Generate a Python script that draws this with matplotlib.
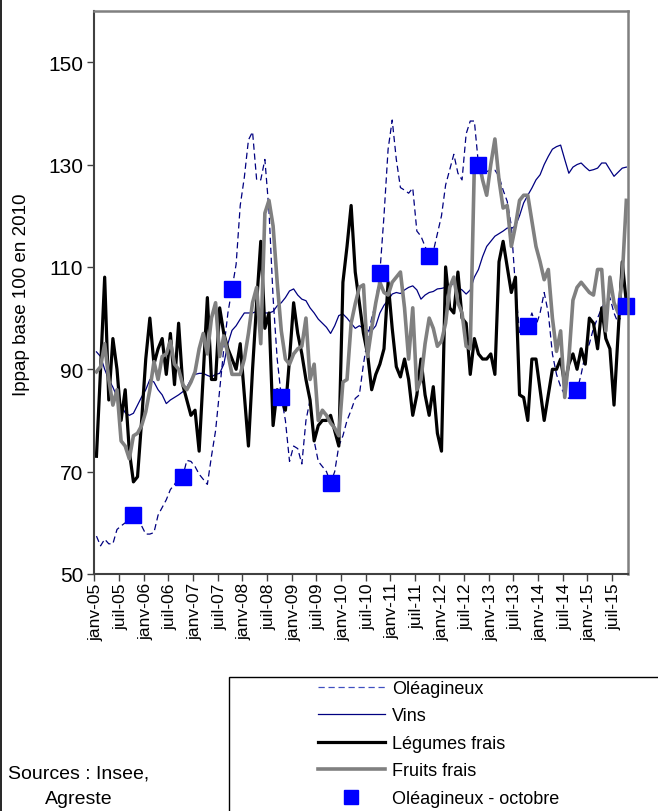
import numpy as np
import matplotlib
matplotlib.use('Agg')
import matplotlib.pyplot as plt
from matplotlib.lines import Line2D
from matplotlib.patches import Rectangle

plt.rcParams['font.family'] = ['Liberation Sans', 'DejaVu Sans']

# Indices des prix (Ippap base 100 en 2010), mensuel janv-05 -> oct-15
oleagineux = [57.4, 55.5, 56.8, 55.9, 55.9, 58.7, 59.4, 60, 60.7, 61.5,
              61.2, 59.4, 57.8, 57.8, 58.1, 61.5, 63, 64.5, 66.5, 67.5,
              68.8, 69, 72.2, 72, 71, 69.5, 68.5, 67.5, 73, 78,
              86, 94, 101, 105.7, 110.5, 122, 127.5, 134.8, 136.4, 127,
              127, 131, 121, 104, 92, 84.6, 80, 72, 75, 74.5,
              71.5, 80, 84, 76, 72, 71, 70, 67.8, 70, 75,
              77, 80, 82, 84.3, 85, 91, 96, 100, 103, 108.9,
              120, 133, 138.7, 131, 125.5, 125, 124.4, 125.4, 117, 116,
              114, 112.1, 113, 116.5, 120, 126, 129, 132, 128.3, 127,
              136, 138.5, 138.5, 130, 129, 128.6, 129, 128.9, 127.7, 125,
              122.8, 118, 106, 97, 97, 98.5, 101, 98.5, 101, 105,
              101, 93, 89, 86.6, 85, 84.3, 84.5, 85.9, 89, 93,
              95, 98, 100, 102, 103.5, 104, 101, 99, 101, 102.4]

vins = [93.4, 92.5, 90, 88, 86.5, 84.6, 83, 81.5, 81, 81.4,
        83, 84.6, 86, 88, 87.5, 86, 85, 83.3, 84, 84.5,
        85, 85.6, 86.5, 88, 89, 89.2, 89.2, 88.8, 88.5, 89,
        89.2, 91, 95, 97.6, 98.5, 99.8, 101, 101, 101, 101.3,
        101.3, 101, 101, 101.3, 102.4, 103, 104, 105.3, 105.7, 104.5,
        103.7, 103.4, 102, 101, 99.8, 99, 98.2, 97, 98.5, 100.5,
        100.8, 100, 99, 98, 98.5, 98, 97.6, 97.5, 98.5, 101,
        102.5, 103.5, 104.7, 105, 104.8, 105.5, 106, 106.3, 105.5, 103.7,
        104.5, 105, 105.2, 105.7, 105.8, 106, 106.3, 106.8, 106, 105.5,
        104.7, 105.5, 108, 109.5, 112, 114, 115, 116, 116.5, 117,
        117.6, 117.5, 118, 120, 122.5, 124, 125.4, 127, 128, 130,
        131.6, 133, 133.5, 133.8, 131, 128.3, 129.5, 130, 130.3, 129.5,
        128.8, 129, 129.3, 130.3, 130.3, 129, 127.7, 128.5, 129.3, 129.5]

legumes = [73, 90, 108, 84, 96, 90, 80, 86, 74, 68,
           69, 80, 92, 100, 91, 94, 96, 89, 97, 87,
           99, 87, 84, 81, 82, 74, 89, 104, 88, 88,
           102, 97, 94, 92, 90, 95, 85, 75, 90, 103,
           115, 98, 101, 79, 86, 84, 82, 92, 103, 97,
           93, 88, 84, 76, 79, 80, 80, 81, 78, 75,
           107, 114, 122, 109, 103, 97, 93, 86, 89, 91,
           94, 107, 98, 90.5, 88.5, 92, 88, 81, 85, 92,
           85, 81, 86.6, 77.5, 74, 110, 102, 101, 109, 100,
           99, 89, 96, 93, 92, 92, 93, 89, 111, 115,
           110, 105, 108, 85, 84.5, 80, 92, 92, 86, 80,
           85, 90, 90, 92, 87, 91, 93, 90, 94, 91,
           100, 99, 94, 102, 96, 94, 83, 97, 111, 103]

fruits = [89.5, 90.5, 95, 88, 83, 86, 76, 75, 72.5, 77,
          77.5, 79, 81.7, 86, 91.5, 88, 92.5, 93, 95.5, 91,
          90, 87, 86, 87.5, 89.5, 94, 97, 93, 100, 103,
          92.5, 96.5, 93, 89, 89, 89, 92, 97, 103, 106,
          95, 120.5, 123, 118, 107, 97.5, 92, 91, 93, 94,
          94.5, 100, 88, 91, 80, 82, 81, 79.5, 78.5, 77,
          87.5, 88, 99, 102.8, 106, 106.5, 92.5, 98, 103, 107,
          105, 104.5, 107, 108, 109, 102, 92, 102, 86, 88,
          95, 100, 98, 94.5, 95.5, 99, 106, 108, 103, 101,
          94.5, 94, 130, 131, 127, 124, 130, 135, 127, 121.5,
          122, 114, 118, 123, 124, 124, 119, 114, 111, 107.5,
          109.5, 100, 93.5, 97.5, 84.5, 92, 103.5, 106, 107, 106,
          105, 104.5, 109.5, 109.5, 97.5, 108, 103, 101, 108, 123]

mois_labels = ['janv-05', 'juil-05', 'janv-06', 'juil-06', 'janv-07', 'juil-07',
               'janv-08', 'juil-08', 'janv-09', 'juil-09', 'janv-10', 'juil-10',
               'janv-11', 'juil-11', 'janv-12', 'juil-12', 'janv-13', 'juil-13',
               'janv-14', 'juil-14', 'janv-15', 'juil-15']

x = np.arange(len(oleagineux))
# les points d'octobre (index 9, 21, 33, ...)
x_oct = x[9::12]
y_oct = np.array(oleagineux)[9::12]

fig = plt.figure(figsize=(6.58, 8.12), dpi=100)
ax = fig.add_axes([94.4 / 658, 1 - 575 / 812, 534 / 658, 563 / 812])

ax.plot(x, oleagineux, color='#000080', lw=0.9, dashes=(5, 3))
ax.plot(x, vins, color='#000080', lw=0.9)
ax.plot(x, legumes, color='black', lw=2.3)
ax.plot(x, fruits, color='#808080', lw=2.6)
ax.plot(x_oct, y_oct, ls='none', marker='s', ms=11, color='#0000ff', clip_on=False)

ax.set_xlim(-0.5, 129.5)
ax.set_ylim(50, 160)
ax.set_yticks(np.arange(50, 151, 20))
ax.set_xticks(np.arange(0, 127, 6))
ax.set_xticklabels(mois_labels, rotation=90)
ax.set_xticks(np.arange(-0.5, 126, 6), minor=True)
ax.tick_params(axis='x', which='major', length=0, pad=6, labelsize=12.5)
ax.tick_params(axis='x', which='minor', length=5, width=1, color='#404040')
ax.tick_params(axis='y', length=5, width=1, color='#404040', labelsize=15, pad=3)

for s in ['top', 'right']:
    ax.spines[s].set_color('#808080')
    ax.spines[s].set_linewidth(1.8)
for s in ['left', 'bottom']:
    ax.spines[s].set_color('#404040')
    ax.spines[s].set_linewidth(1.5)

fig.text(22 / 658, 1 - 295 / 812, 'Ippap base 100 en 2010', rotation=90,
         ha='center', va='center', fontsize=13.5)

fig.text(79 / 658, 1 - 774 / 812, 'Sources : Insee,', ha='center', va='center', fontsize=14)
fig.text(79 / 658, 1 - 800 / 812, 'Agreste', ha='center', va='center', fontsize=14)

# cadre de la figure (bord gauche) et cadre de la legende
fig.add_artist(Line2D([1 / 658, 1 / 658], [0, 1], color='black', lw=1.2))
fig.add_artist(Rectangle((229 / 658, -0.05), 0.7, 0.05 + (812 - 678) / 812,
                         fill=False, edgecolor='black', lw=1))

handles = [Line2D([], [], color='#4050c0', lw=0.9, dashes=(5, 3)),
           Line2D([], [], color='#000080', lw=0.9),
           Line2D([], [], color='black', lw=2.3),
           Line2D([], [], color='#808080', lw=2.6),
           Line2D([], [], ls='none', marker='s', ms=10, color='#0000ff')]
noms = ['Oléagineux', 'Vins', 'Légumes frais', 'Fruits frais', 'Oléagineux - octobre']
fig.legend(handles, noms, loc='upper left', bbox_to_anchor=(318 / 658, 1 - 681 / 812),
           frameon=False, fontsize=13, handlelength=3.7, handletextpad=0.39,
           labelspacing=0.58, borderpad=0, borderaxespad=0)

plt.savefig('out.png', dpi=100)
